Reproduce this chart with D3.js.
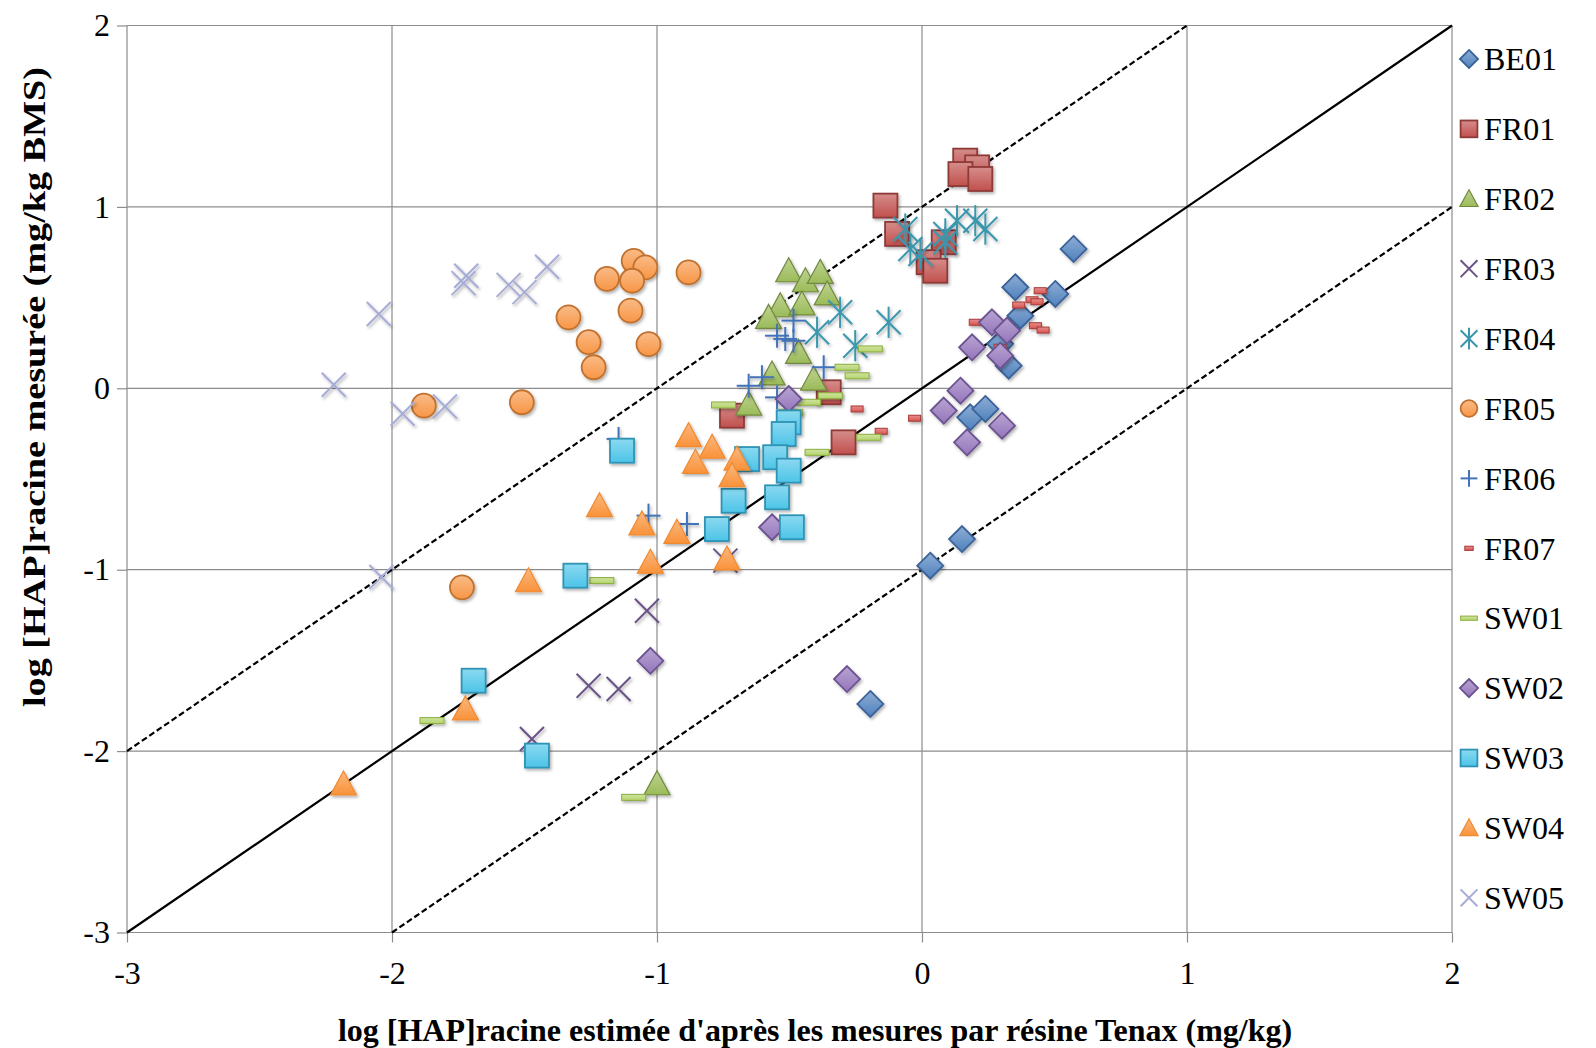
<!DOCTYPE html>
<html>
  <head>
    <meta charset="utf-8">
    <script type="text/javascript" src="https://cdn.jsdelivr.net/npm/d3@7"></script>
    <style>
      body { margin: 0; background: #fff; }
      text { font-family: "Liberation Serif", "Times New Roman", serif; fill: #000; }
    </style>
  </head>
  <body>
    <script type="text/javascript">
      var be01 = [[0.572, 0.768], [0.352, 0.557], [0.503, 0.52], [0.371, 0.40], [0.295, 0.245],
                  [0.327, 0.125], [0.182, -0.16], [0.239, -0.114], [0.151, -0.831], [0.031, -0.978],
                  [-0.195, -1.74]];
      var fr01 = [[0.163, 1.255], [0.208, 1.218], [0.145, 1.181], [0.22, 1.154], [-0.138, 1.007],
                  [-0.094, 0.851], [0.082, 0.805], [0.025, 0.695], [0.05, 0.648], [-0.352, -0.022],
                  [-0.717, -0.151], [-0.296, -0.298]];
      var fr02 = [[-0.503, 0.648], [-0.44, 0.593], [-0.384, 0.639], [-0.358, 0.52], [-0.535, 0.455],
                  [-0.453, 0.465], [-0.579, 0.391], [-0.466, 0.198], [-0.566, 0.079], [-0.409, 0.051],
                  [-0.654, -0.087], [-1.0, -2.18]];
      var fr03 = [[-1.038, -1.226], [-1.258, -1.64], [-1.145, -1.658], [-1.472, -1.933], [-0.742, -0.95]];
      var fr04 = [[-0.063, 0.878], [-0.044, 0.768], [-0.006, 0.74], [0.088, 0.851], [0.088, 0.805],
                  [0.132, 0.924], [0.201, 0.924], [0.239, 0.878], [-0.126, 0.364], [-0.309, 0.419],
                  [-0.252, 0.235], [-0.396, 0.309]];
      var fr05 = [[-1.088, 0.703], [-1.044, 0.667], [-1.189, 0.603], [-1.094, 0.593], [-0.881, 0.639],
                  [-1.10, 0.428], [-1.334, 0.391], [-1.258, 0.254], [-1.032, 0.244], [-1.239, 0.116],
                  [-1.88, -0.096], [-1.51, -0.077], [-1.736, -1.097]];
      var fr06 = [[-0.485, 0.373], [-0.547, 0.29], [-0.516, 0.272], [-0.485, 0.262], [-0.371, 0.116],
                  [-0.604, 0.061], [-0.654, 0.014], [-0.547, -0.05], [-1.145, -0.279], [-1.032, -0.702],
                  [-0.887, -0.748]];
      var fr07 = [[0.446, 0.538], [0.415, 0.488], [0.434, 0.477], [0.365, 0.459], [0.201, 0.364],
                  [0.428, 0.345], [0.457, 0.321], [0.295, 0.226], [-0.245, -0.114], [-0.028, -0.165],
                  [-0.154, -0.237]];
      var sw01 = [[-0.195, 0.217], [-0.283, 0.116], [-0.245, 0.069], [-0.346, -0.041], [-0.428, -0.077],
                  [-0.749, -0.092], [-0.495, -0.132], [-0.201, -0.27], [-0.396, -0.353], [-1.208, -1.06],
                  [-1.849, -1.832], [-1.088, -2.255]];
      var sw02 = [[0.264, 0.364], [0.321, 0.318], [0.189, 0.226], [0.295, 0.18], [0.145, -0.013],
                  [0.082, -0.123], [0.302, -0.206], [0.17, -0.298], [-0.503, -0.059], [-0.566, -0.766],
                  [-1.025, -1.502], [-0.283, -1.603]];
      var sw03 = [[-1.132, -0.344], [-0.66, -0.39], [-0.503, -0.188], [-0.522, -0.252], [-0.554, -0.38],
                  [-0.503, -0.454], [-0.711, -0.62], [-0.547, -0.601], [-0.774, -0.776], [-0.491, -0.766],
                  [-1.308, -1.033], [-1.692, -1.612], [-1.453, -2.025]];
      var sw04 = [[-0.881, -0.261], [-0.792, -0.325], [-0.855, -0.408], [-0.698, -0.39], [-0.717, -0.482],
                  [-1.217, -0.647], [-1.057, -0.748], [-0.925, -0.794], [-1.025, -0.959], [-0.736, -0.941],
                  [-1.485, -1.061], [-1.723, -1.768], [-2.183, -2.181]];
      var sw05 = [[-2.05, 0.41], [-1.72, 0.62], [-1.73, 0.58], [-1.56, 0.57], [-1.50, 0.53],
                  [-1.415, 0.67], [-2.22, 0.02], [-1.96, -0.14], [-1.80, -0.10], [-2.04, -1.04]];

      var seriesNames = ["BE01", "FR01", "FR02", "FR03", "FR04", "FR05", "FR06",
                         "FR07", "SW01", "SW02", "SW03", "SW04", "SW05"];
      var seriesData = [be01, fr01, fr02, fr03, fr04, fr05, fr06, fr07, sw01, sw02, sw03, sw04, sw05];
      var xTicks = [-3, -2, -1, 0, 1, 2];
      var yTicks = [-3, -2, -1, 0, 1, 2];

      // marker shape + colours per series (fill, stroke)
      var markers = [
        {shape: "diamond",  fill: "#4f81bd", stroke: "#3a6299"},
        {shape: "square",   fill: "#c0504d", stroke: "#8e3a38"},
        {shape: "triangle", fill: "#9bbb59", stroke: "#71893f"},
        {shape: "x",        fill: "none",    stroke: "#6a5386"},
        {shape: "star",     fill: "none",    stroke: "#3a97ad"},
        {shape: "circle",   fill: "#f79646", stroke: "#c0712f"},
        {shape: "plus",     fill: "none",    stroke: "#4372b8"},
        {shape: "dash",     fill: "#d9534f", stroke: "#a83a37"},
        {shape: "longdash", fill: "#b5d46c", stroke: "#8aae3e"},
        {shape: "diamond",  fill: "#9475bb", stroke: "#6b5390"},
        {shape: "square",   fill: "#4cc4e8", stroke: "#2e93b5"},
        {shape: "triangle", fill: "#f9923a", stroke: "#f08a30"},
        {shape: "x",        fill: "none",    stroke: "#a6acd6"}
      ];

      var serif = "'Liberation Serif', 'Times New Roman', serif";
      var width = 1596;
      var height = 1048;
      var svg = d3.select("body")
                  .append("svg")
                  .attr("width", width)
                  .attr("height", height);

      // gradients + soft shadow like Excel markers
      var defs = svg.append("defs");
      markers.forEach(function(m, i) {
        if (m.fill === "none") return;
        var g = defs.append("linearGradient")
                    .attr("id", "grad" + i)
                    .attr("x1", 0).attr("y1", 0).attr("x2", 0).attr("y2", 1);
        g.append("stop").attr("offset", "0%").attr("stop-color", d3.interpolateRgb(m.fill, "#fff")(0.35));
        g.append("stop").attr("offset", "100%").attr("stop-color", m.fill);
      });
      defs.append("filter")
          .attr("id", "shadow")
          .attr("x", "-50%").attr("y", "-50%").attr("width", "200%").attr("height", "200%")
          .append("feDropShadow")
          .attr("dx", 1.5).attr("dy", 2).attr("stdDeviation", 1.5)
          .attr("flood-color", "#000").attr("flood-opacity", 0.3);

      // Scales
      var x = d3.scaleLinear().domain([-3, 2]).range([127, 1452]);
      var y = d3.scaleLinear().domain([-3, 2]).range([932.5, 25.5]);

      // Gridlines
      svg.append("g")
         .selectAll("line")
         .data(xTicks)
         .enter()
         .append("line")
         .attr("x1", function(d) { return x(d); })
         .attr("x2", function(d) { return x(d); })
         .attr("y1", y(2))
         .attr("y2", y(-3))
         .attr("stroke", "#8c8c8c")
         .attr("stroke-width", 1.2);
      svg.append("g")
         .selectAll("line")
         .data(yTicks)
         .enter()
         .append("line")
         .attr("x1", x(-3))
         .attr("x2", x(2))
         .attr("y1", function(d) { return y(d); })
         .attr("y2", function(d) { return y(d); })
         .attr("stroke", "#8c8c8c")
         .attr("stroke-width", 1.2);

      // Axes
      var yAxis = d3.axisLeft(y)
                    .tickValues(yTicks)
                    .tickSize(10)
                    .tickPadding(7)
                    .tickFormat(function(d) { return String(d); });
      var gy = svg.append("g")
                  .attr("transform", "translate(" + x(-3) + ",0)")
                  .call(yAxis);
      var xAxis = d3.axisBottom(x)
                    .tickValues(xTicks)
                    .tickSize(10)
                    .tickPadding(19)
                    .tickFormat(function(d) { return String(d); });
      var gx = svg.append("g")
                  .attr("transform", "translate(0," + y(-3) + ")")
                  .call(xAxis);
      [gx, gy].forEach(function(g) {
        g.attr("font-family", null).attr("font-size", null);
        g.select(".domain").remove();
        g.selectAll(".tick line").attr("stroke", "#8c8c8c").attr("stroke-width", 1.2);
        g.selectAll(".tick text")
         .attr("fill", "#000")
         .attr("font-family", serif)
         .style("font-family", serif)
         .style("font-size", "32px");
      });

      // Reference lines: 1:1 and +/- 1 log unit
      var refLines = [
        {pts: [[-3, -3], [2, 2]], dash: null},
        {pts: [[-3, -2], [1, 2]], dash: "6,3"},
        {pts: [[-2, -3], [2, 1]], dash: "6,3"}
      ];
      svg.append("g")
         .selectAll("line")
         .data(refLines)
         .enter()
         .append("line")
         .attr("x1", function(d) { return x(d.pts[0][0]); })
         .attr("y1", function(d) { return y(d.pts[0][1]); })
         .attr("x2", function(d) { return x(d.pts[1][0]); })
         .attr("y2", function(d) { return y(d.pts[1][1]); })
         .attr("stroke", "#000")
         .attr("stroke-width", 2.2)
         .attr("stroke-dasharray", function(d) { return d.dash; });

      // Draws one marker at (0,0) inside group g, s = size scale
      function drawMarker(g, i, s) {
        var m = markers[i];
        var fill = m.fill === "none" ? "none" : "url(#grad" + i + ")";
        if (m.shape === "square") {
          g.append("rect").attr("x", -12 * s).attr("y", -12 * s)
           .attr("width", 24 * s).attr("height", 24 * s)
           .attr("fill", fill).attr("stroke", m.stroke).attr("stroke-width", 1.8);
        } else if (m.shape === "diamond") {
          g.append("path")
           .attr("d", "M0," + (-13 * s) + "L" + (13 * s) + ",0L0," + (13 * s) + "L" + (-13 * s) + ",0Z")
           .attr("fill", fill).attr("stroke", m.stroke).attr("stroke-width", 1.8);
        } else if (m.shape === "triangle") {
          g.append("path")
           .attr("d", "M0," + (-13 * s) + "L" + (13 * s) + "," + (11 * s) + "L" + (-13 * s) + "," + (11 * s) + "Z")
           .attr("fill", fill).attr("stroke", m.stroke).attr("stroke-width", 1.2);
        } else if (m.shape === "circle") {
          g.append("circle").attr("r", 12 * s)
           .attr("fill", fill).attr("stroke", m.stroke).attr("stroke-width", 1.8);
        } else if (m.shape === "dash") {
          g.append("rect").attr("x", -6 * s).attr("y", -3 * s)
           .attr("width", 12 * s).attr("height", 6 * s)
           .attr("fill", fill).attr("stroke", m.stroke).attr("stroke-width", 1);
        } else if (m.shape === "longdash") {
          g.append("rect").attr("x", -12 * s).attr("y", -3 * s)
           .attr("width", 24 * s).attr("height", 6 * s)
           .attr("fill", fill).attr("stroke", m.stroke).attr("stroke-width", 1);
        } else {
          var r = 12 * s;
          var segs = [];
          if (m.shape === "x" || m.shape === "star") {
            segs.push([-r, -r, r, r], [-r, r, r, -r]);
          }
          if (m.shape === "star") segs.push([0, -r * 1.3, 0, r * 1.3]);
          if (m.shape === "plus") segs.push([-r, 0, r, 0], [0, -r, 0, r]);
          segs.forEach(function(p) {
            g.append("line").attr("x1", p[0]).attr("y1", p[1]).attr("x2", p[2]).attr("y2", p[3])
             .attr("stroke", m.stroke).attr("stroke-width", 2);
          });
        }
      }

      // Plot points, series by series
      seriesData.forEach(function(data, i) {
        svg.append("g")
           .attr("class", "series")
           .attr("filter", "url(#shadow)")
           .selectAll("g")
           .data(data)
           .enter()
           .append("g")
           .attr("transform", function(d) { return "translate(" + x(d[0]) + "," + y(d[1]) + ")"; })
           .each(function() { drawMarker(d3.select(this), i, 1); });
      });

      // Legend
      var legend = svg.append("g")
                      .selectAll("g")
                      .data(seriesNames)
                      .enter()
                      .append("g")
                      .attr("transform", function(d, i) { return "translate(1469," + (59 + i * 69.9) + ")"; });
      legend.each(function(d, i) { drawMarker(d3.select(this), i, 0.7); });
      legend.append("text")
            .attr("x", 15)
            .attr("dy", "0.35em")
            .style("font-family", serif)
            .style("font-size", "32px")
            .text(function(d) { return d; });

      // Axis titles
      svg.append("text")
         .attr("x", 815)
         .attr("y", 1041)
         .attr("text-anchor", "middle")
         .style("font-family", serif)
         .style("font-size", "32px")
         .style("font-weight", "bold")
         .text("log [HAP]racine estimée d'après les mesures par résine Tenax (mg/kg)");
      svg.append("text")
         .attr("transform", "translate(45,387) rotate(-90)")
         .attr("text-anchor", "middle")
         .attr("textLength", 640)
         .attr("lengthAdjust", "spacingAndGlyphs")
         .style("font-family", serif)
         .style("font-size", "32px")
         .style("font-weight", "bold")
         .text("log [HAP]racine mesurée (mg/kg BMS)");
    </script>
  </body>
</html>
